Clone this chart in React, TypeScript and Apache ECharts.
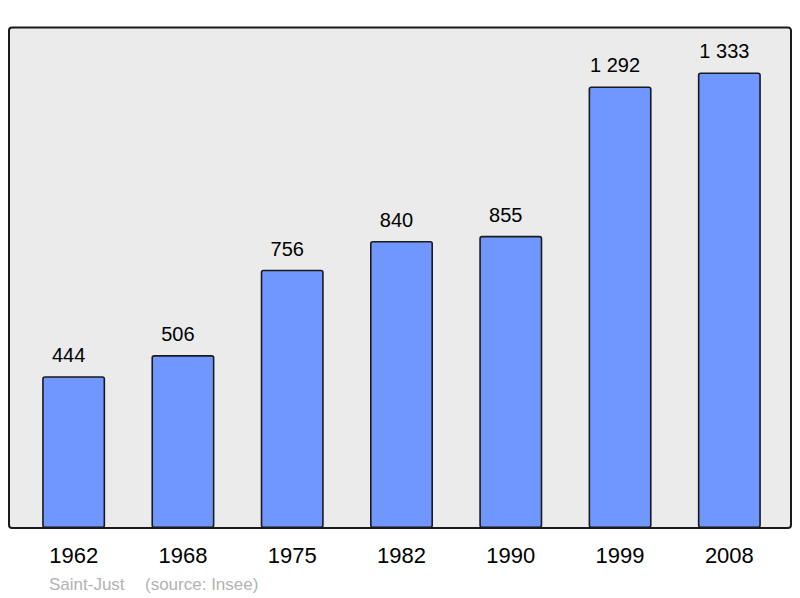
import React, { useEffect, useRef } from "react";
import * as echarts from "echarts";

const years = ["1962", "1968", "1975", "1982", "1990", "1999", "2008"];
const population = [444, 506, 756, 840, 855, 1292, 1333];
const townName = "Saint-Just";
const sourceText = "(source: Insee)";

const fmt = (v: number) => String(v).replace(/\B(?=(\d{3})+(?!\d))/g, " ");

export default function App() {
  const ref = useRef<HTMLDivElement>(null);
  useEffect(() => {
    if (!ref.current) return;
    const chart = echarts.init(ref.current, null, { renderer: "svg" });
    const font = "'Liberation Sans', Arial, sans-serif";
    chart.setOption({
      animation: false,
      textStyle: { fontFamily: font },
      grid: { left: 19, right: 16, top: 27, bottom: 70 },
      graphic: [
        {
          type: "rect",
          z: -10,
          shape: { x: 9, y: 27.5, width: 782, height: 500.5, r: 3 },
          style: { fill: "#ebebeb", stroke: "#1a1a1a", lineWidth: 2 },
        },
        {
          type: "text",
          x: 49,
          y: 576,
          style: { text: townName, fill: "#b3b3b3", font: `17px ${font}` },
        },
        {
          type: "text",
          x: 145,
          y: 576,
          style: { text: sourceText, fill: "#b3b3b3", font: `17px ${font}` },
        },
      ],
      xAxis: {
        type: "category",
        data: years,
        axisLine: { show: false },
        axisTick: { show: false },
        axisLabel: { color: "#000", fontSize: 22, margin: 16, fontFamily: font },
      },
      yAxis: {
        type: "value",
        min: 0,
        max: 1466,
        show: false,
        splitLine: { show: false },
      },
      series: [
        {
          type: "bar",
          data: population,
          barWidth: 63,
          z: 5,
          itemStyle: {
            color: "#7096ff",
            borderColor: "#1a1a1a",
            borderWidth: 1.6,
            borderRadius: 2,
          },
          label: {
            show: true,
            position: "top",
            distance: 11,
            offset: [-5, 0],
            color: "#000",
            fontSize: 20,
            fontFamily: font,
            formatter: (p: any) => fmt(p.value),
          },
        },
      ],
    });
    return () => chart.dispose();
  }, []);
  return <div ref={ref} style={{ width: 800, height: 598, position: "absolute", left: 0, top: 0 }} />;
}
